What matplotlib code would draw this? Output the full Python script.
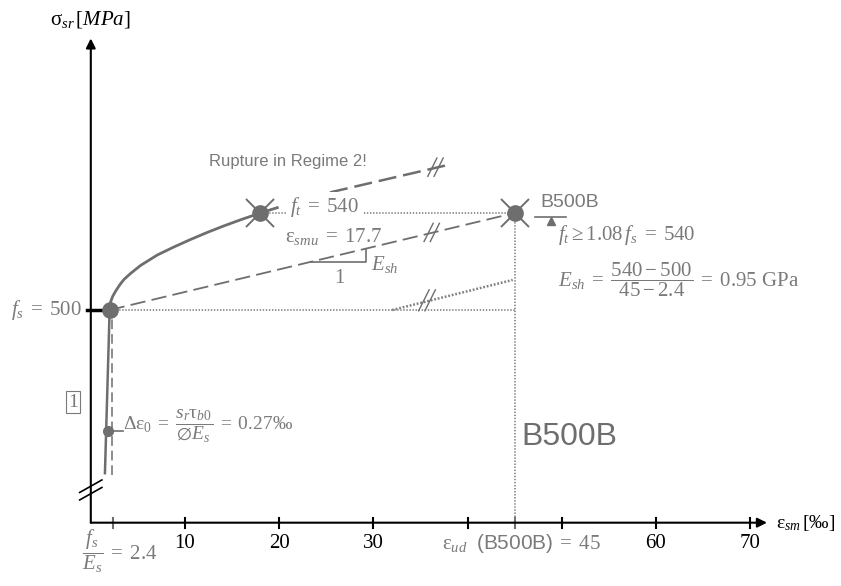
import matplotlib
matplotlib.use("Agg")
import matplotlib.pyplot as plt
from matplotlib.transforms import Affine2D, ScaledTranslation

plt.rcParams['font.family'] = ['Liberation Sans', 'DejaVu Sans']
plt.rcParams['mathtext.fontset'] = 'custom'
plt.rcParams['mathtext.rm'] = 'Liberation Serif'
plt.rcParams['mathtext.it'] = 'Liberation Serif:italic'
plt.rcParams['mathtext.bf'] = 'Liberation Serif:bold'
plt.rcParams['mathtext.sf'] = 'Liberation Sans'
plt.rcParams['mathtext.fallback'] = 'stix'
plt.rcParams['lines.scale_dashes'] = False

# ---------------- data (strain in per mille, stress in MPa) ----------------
fs = 500
ft = 540
eps_sy = 2.4
eps_ud = 45
eps_smu = 18.0
axis_stress = 412.3          # stress level where the (broken) x axis is drawn

curve_eps = [2.0, 2.1, 2.32, 2.64, 3.06, 3.52, 4.23, 5.29, 7.07, 8.83, 10.6, 12.37, 14.14, 15.9, 18.0, 19.8]
curve_sig = [500, 503.3, 505.6, 507.8, 510.3, 512.6, 515.1, 518.4, 522.7, 526.0, 529.1, 532.0, 534.7, 537.2, 540, 542.2]

ext_eps = [25.4, 37.9]
ext_sig = [548.5, 559.8]

elastic_eps = [1.5, 2.0]
elastic_sig = [432.7, 500]
bare_eps = [2.2, 2.2]
bare_sig = [432.0, 500]
delta_pt = (1.8, 450)

secant_eps = [2.0, eps_ud]
secant_sig = [fs, ft]

b500_eps = [32.0, 44.8]
b500_sig = [500, 512.4]

tri_eps = [23.4, 29.2, 29.2]
tri_sig = [519.9, 519.9, 525.3]

xticks = [10, 20, 30, 40, 50, 60, 70]
xticklabels = ['10', '20', '30', '', '', '60', '70']

GRAY = '#6e6e6e'
TGRAY = '#7a7a7a'
DOT = '#808080'
SERIF = 'Liberation Serif'

fig = plt.figure(figsize=(8.41, 5.86), dpi=100)
ax = fig.add_axes([0, 0, 1, 1])
ax.set_xlim(-9.642, 79.66)
ax.set_ylim(386.19, 627.84)
ax.axis('off')


def pt_trans(x, y):
    return Affine2D().scale(1 / 72.) + fig.dpi_scale_trans + ScaledTranslation(x, y, ax.transData)


def slashes(x, y, dx=4, dy=7, sep=3.5, color=GRAY, lw=1.0):
    tr = pt_trans(x, y)
    for off in (-sep / 2, sep / 2):
        ax.plot([-dx + off, dx + off], [-dy, dy], color=color, lw=lw, transform=tr,
                solid_capstyle='butt', zorder=6)


# ---------------- axes ----------------
ax.annotate('', xy=(0, 612), xytext=(0, axis_stress),
            arrowprops=dict(arrowstyle='-|>', lw=1.5, color='black', mutation_scale=14,
                            shrinkA=0, shrinkB=0))
ax.annotate('', xy=(71.8, axis_stress), xytext=(0, axis_stress),
            arrowprops=dict(arrowstyle='-|>', lw=1.5, color='black', mutation_scale=14,
                            shrinkA=0, shrinkB=0))
tr0 = pt_trans(0, 425.8)
ax.plot([-8, 8], [-1.8, 7.2], color='black', lw=1.2, transform=tr0)
ax.plot([-8, 8], [-7.2, 1.8], color='black', lw=1.2, transform=tr0)

for xt, lab in zip(xticks, xticklabels):
    ax.plot([xt, xt], [axis_stress - 2.1, axis_stress + 2.1], color='black', lw=1.5)
    if lab:
        ax.text(xt, 403.8, lab, ha='center', va='center', fontsize=15,
                family=SERIF, color='black')
for xt in (eps_sy, eps_ud):
    ax.plot([xt, xt], [axis_stress - 2.1, axis_stress + 2.1], color=GRAY, lw=1.5)

# y tick at fs
ax.plot([-0.45, 1.4], [fs, fs], color='black', lw=2.5, zorder=4)

# ---------------- reference lines ----------------
ax.plot([eps_smu, eps_ud], [ft, ft], color=DOT, lw=1.2, ls=(0, (1, 1.2)), zorder=2)
ax.plot([2.0, eps_ud], [fs, fs], color=DOT, lw=1.2, ls=(0, (1, 1.2)), zorder=2)
ax.plot([eps_ud, eps_ud], [axis_stress, ft], color=DOT, lw=1.2, ls=(0, (1, 1.2)), zorder=2)
ax.plot(b500_eps, b500_sig, color=DOT, lw=1.8, ls=(0, (1.3, 1.3)), zorder=2)
slashes(35.7, 504.0, dx=4, dy=8, sep=4.5, color=GRAY, lw=1.0)

# secant (E_sh) dashed
ax.plot(secant_eps, secant_sig, color=GRAY, lw=1.3, ls=(0, (11, 4.5)), zorder=3)
slashes(36.2, 532.0, dx=3.5, dy=7, sep=4.5, color=GRAY, lw=1.0)
ax.plot(tri_eps, tri_sig, color=GRAY, lw=1.2, zorder=3)

# ---------------- steel curve ----------------
ax.plot(elastic_eps, elastic_sig, color=GRAY, lw=1.8, zorder=4)
ax.plot(bare_eps, bare_sig, color=GRAY, lw=1.1, ls=(0, (7, 3.5)), zorder=3)
ax.plot([delta_pt[0], 3.4], [delta_pt[1], delta_pt[1]], color=GRAY, lw=1.2, zorder=3)
ax.plot(*delta_pt, 'o', color=GRAY, ms=7, zorder=5)

ax.plot(curve_eps, curve_sig, color=GRAY, lw=2.0, solid_joinstyle='round', zorder=4)
ax.plot(ext_eps, ext_sig, color=GRAY, lw=1.8, ls=(0, (13, 5)), zorder=4)
slashes(36.6, 558.9, dx=3.5, dy=7, sep=4.5, color=GRAY, lw=1.0)

ax.plot(2.0, fs, 'o', color=GRAY, ms=11, zorder=6)
for (xe, ye) in [(eps_smu, ft), (eps_ud, ft)]:
    ax.plot(xe, ye, 'x', color=GRAY, ms=20, mew=1.4, zorder=5)
    ax.plot(xe, ye, 'o', color=GRAY, ms=11, zorder=6)

# ---------------- texts ----------------
ax.text(-4.33, 619.6, r'$\mathrm{\sigma}_{sr}\,[MPa]$', fontsize=15, ha='left', va='center')
ax.text(72.8, axis_stress, r'$\mathrm{\varepsilon}_{sm}\,[\mathrm{‰}]$', fontsize=14,
        ha='left', va='center')
ax.text(-0.94, fs, r'$f_s\;=\;500$', fontsize=15, ha='right', va='center', color=TGRAY)
ax.text(-1.89, 462, '1', fontsize=14, family=SERIF, ha='center', va='center', color=TGRAY,
        bbox=dict(boxstyle='square,pad=0.12', fc='white', ec=TGRAY, lw=0.8))
ax.text(3.45, 452.2,
        r'$\mathrm{\Delta\varepsilon}_0\;=\;\dfrac{s_r\mathrm{\tau}_{b0}}{\emptyset E_s}\;=\;\mathrm{0.27‰}$',
        fontsize=14, ha='left', va='center', color=TGRAY)
ax.text(12.55, 561.2, 'Rupture in Regime 2!', fontsize=12, ha='left', va='center', color=TGRAY)
ax.text(21.2, 542.6, r'$f_t\;=\;540$', fontsize=15, ha='left', va='center', color=TGRAY,
        bbox=dict(boxstyle='square,pad=0.15', fc='white', ec='none'), zorder=7)
ax.text(20.6, 530.2, r'$\mathrm{\varepsilon}_{smu}\;=\;17.7$', fontsize=15, ha='left',
        va='center', color=TGRAY)
ax.text(26.4, 513.1, '1', fontsize=15, family=SERIF, ha='center', va='center', color=TGRAY)
ax.text(29.8, 518.6, r'$E_{sh}$', fontsize=15, ha='left', va='center', color=TGRAY)

ax.text(47.7, 544.3, 'B500B', fontsize=14, ha='left', va='center', color=TGRAY)
ax.plot([47.2, 50.5], [538.5, 538.5], color=GRAY, lw=1.2)
ax.plot(48.9, 536.6, '^', color=GRAY, ms=6)
ax.text(49.6, 530.9, r'$f_t \geq 1.08\,f_s\;=\;540$', fontsize=15, ha='left', va='center',
        color=TGRAY)
ax.text(49.6, 512.4, r'$E_{sh}\;=\;\dfrac{540-500}{45-2.4}\;=\;0.95\ \mathrm{GPa}$',
        fontsize=15, ha='left', va='center', color=TGRAY)
ax.text(45.75, 447.8, 'B500B', fontsize=23, ha='left', va='center', color=GRAY)

ax.text(-0.97, 400.6, r'$\dfrac{f_s}{E_s}\;=\;2.4$', fontsize=15, ha='left', va='center',
        color=TGRAY)
ax.text(37.3, 403.8, r'$\mathrm{\varepsilon}_{ud}\ \ \mathsf{(B500B)}\;=\;45$', fontsize=15,
        ha='left', va='center', color=TGRAY)

fig.savefig('out.png', dpi=100)
